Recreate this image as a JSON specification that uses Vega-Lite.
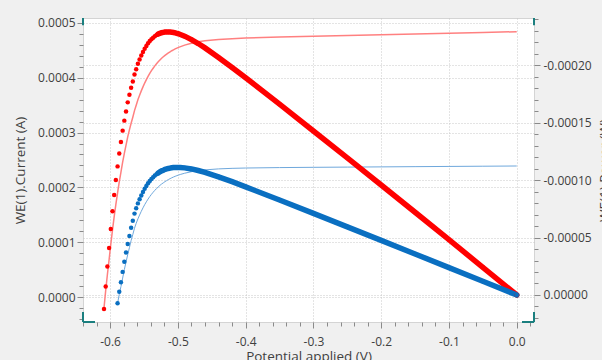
{
  "$schema": "https://vega.github.io/schema/vega-lite/v6.json",
  "width": 451,
  "height": 304,
  "autosize": {"type": "none"},
  "padding": {"left": 83, "top": 18, "right": 68, "bottom": 38},
  "background": "#f0f0f0",
  "config": {
    "view": {"fill": "white", "stroke": "#d4d4d4", "strokeWidth": 1},
    "font": "Open Sans",
    "axis": {
      "labelFont": "Open Sans",
      "labelFontSize": 12,
      "labelColor": "#404040",
      "titleFont": "Open Sans",
      "titleFontSize": 13.5,
      "titleFontWeight": "normal",
      "titleColor": "#404040",
      "tickColor": "#8a8a8a",
      "domain": false,
      "gridColor": "#c8c8c8",
      "gridDash": [1, 2],
      "labelOverlap": false,
      "labelBound": false,
      "labelFlush": false
    }
  },
  "datasets": {
    "corners": [
      {"V": -0.64, "V2": -0.64, "I": -0.0000456, "I2": -0.0000274},
      {"V": -0.64, "V2": -0.6223, "I": -0.0000456, "I2": -0.0000456},
      {"V": 0.0255, "V2": 0.0255, "I": -0.0000456, "I2": -0.0000274},
      {"V": 0.0078, "V2": 0.0255, "I": -0.0000456, "I2": -0.0000456},
      {"V": -0.64, "V2": -0.64, "I": 0.000509, "I2": 0.000496},
      {"V": 0.0255, "V2": 0.0255, "I": 0.000509, "I2": 0.000496}
    ],
    "red": [
      {"V": -0.609, "I": -0.000020, "P": 0.0000122},
      {"V": -0.6065, "I": 0.000012, "P": -0.0000073},
      {"V": -0.604, "I": 0.000041, "P": -0.0000248},
      {"V": -0.6015, "I": 0.000068, "P": -0.0000409},
      {"V": -0.599, "I": 0.000096, "P": -0.0000575},
      {"V": -0.5965, "I": 0.000122, "P": -0.0000728},
      {"V": -0.594, "I": 0.0001465, "P": -0.0000870},
      {"V": -0.5915, "I": 0.000169, "P": -0.0001000},
      {"V": -0.589, "I": 0.000190, "P": -0.0001119},
      {"V": -0.5865, "I": 0.000210, "P": -0.0001232},
      {"V": -0.584, "I": 0.000228, "P": -0.0001332},
      {"V": -0.5815, "I": 0.000246, "P": -0.0001430},
      {"V": -0.579, "I": 0.000262, "P": -0.0001517},
      {"V": -0.5765, "I": 0.000277, "P": -0.0001597},
      {"V": -0.574, "I": 0.000292, "P": -0.0001676},
      {"V": -0.5715, "I": 0.000305, "P": -0.0001743},
      {"V": -0.569, "I": 0.000317, "P": -0.0001804},
      {"V": -0.5665, "I": 0.000328, "P": -0.0001858},
      {"V": -0.564, "I": 0.000340, "P": -0.0001918},
      {"V": -0.5615, "I": 0.000350, "P": -0.0001965},
      {"V": -0.559, "I": 0.000360, "P": -0.0002012},
      {"V": -0.5565, "I": 0.000368, "P": -0.0002048},
      {"V": -0.554, "I": 0.000376, "P": -0.0002083},
      {"V": -0.5515, "I": 0.0003834, "P": -0.0002114},
      {"V": -0.549, "I": 0.0003903, "P": -0.0002143},
      {"V": -0.5465, "I": 0.0003966, "P": -0.0002167},
      {"V": -0.544, "I": 0.0004025, "P": -0.0002190},
      {"V": -0.5415, "I": 0.0004079, "P": -0.0002209},
      {"V": -0.539, "I": 0.0004129, "P": -0.0002226},
      {"V": -0.5365, "I": 0.0004174, "P": -0.0002239},
      {"V": -0.534, "I": 0.0004217, "P": -0.0002252},
      {"V": -0.5315, "I": 0.0004255, "P": -0.0002262},
      {"V": -0.529, "I": 0.0004292, "P": -0.0002270},
      {"V": -0.5265, "I": 0.0004324, "P": -0.0002277},
      {"V": -0.524, "I": 0.0004355, "P": -0.0002282},
      {"V": -0.5215, "I": 0.0004382, "P": -0.0002285},
      {"V": -0.519, "I": 0.0004408, "P": -0.0002288},
      {"V": -0.5165, "I": 0.0004431, "P": -0.0002289},
      {"V": -0.514, "I": 0.0004453, "P": -0.0002289},
      {"V": -0.5115, "I": 0.0004474, "P": -0.0002288},
      {"V": -0.509, "I": 0.0004493, "P": -0.0002287},
      {"V": -0.5065, "I": 0.0004510, "P": -0.0002284},
      {"V": -0.504, "I": 0.0004526, "P": -0.0002281},
      {"V": -0.5015, "I": 0.0004541, "P": -0.0002277},
      {"V": -0.499, "I": 0.0004555, "P": -0.0002273},
      {"V": -0.49, "I": 0.0004595, "P": -0.0002252},
      {"V": -0.48, "I": 0.0004629, "P": -0.0002222},
      {"V": -0.47, "I": 0.0004655, "P": -0.0002188},
      {"V": -0.46, "I": 0.0004673, "P": -0.0002150},
      {"V": -0.44, "I": 0.0004698, "P": -0.0002067},
      {"V": -0.42, "I": 0.0004713, "P": -0.0001979},
      {"V": -0.40, "I": 0.0004724, "P": -0.0001890},
      {"V": -0.35, "I": 0.0004744, "P": -0.0001660},
      {"V": -0.30, "I": 0.0004758, "P": -0.0001427},
      {"V": -0.25, "I": 0.0004771, "P": -0.0001193},
      {"V": -0.20, "I": 0.0004785, "P": -0.0000957},
      {"V": -0.15, "I": 0.0004799, "P": -0.0000720},
      {"V": -0.10, "I": 0.0004813, "P": -0.0000481},
      {"V": -0.05, "I": 0.0004826, "P": -0.0000241},
      {"V": 0.0, "I": 0.0004840, "P": 0.0}
    ],
    "blue": [
      {"V": -0.589, "I": -0.000012, "P": 0.0000071},
      {"V": -0.5865, "I": 0.000005, "P": -0.0000029},
      {"V": -0.584, "I": 0.000019, "P": -0.0000111},
      {"V": -0.5815, "I": 0.0000345, "P": -0.0000201},
      {"V": -0.579, "I": 0.000050, "P": -0.0000290},
      {"V": -0.5765, "I": 0.000064, "P": -0.0000369},
      {"V": -0.574, "I": 0.0000773, "P": -0.0000444},
      {"V": -0.5715, "I": 0.000090, "P": -0.0000514},
      {"V": -0.569, "I": 0.000103, "P": -0.0000586},
      {"V": -0.5665, "I": 0.000114, "P": -0.0000646},
      {"V": -0.564, "I": 0.0001255, "P": -0.0000708},
      {"V": -0.5615, "I": 0.0001345, "P": -0.0000755},
      {"V": -0.559, "I": 0.0001425, "P": -0.0000797},
      {"V": -0.5565, "I": 0.0001496, "P": -0.0000833},
      {"V": -0.554, "I": 0.0001563, "P": -0.0000866},
      {"V": -0.5515, "I": 0.0001626, "P": -0.0000897},
      {"V": -0.549, "I": 0.0001684, "P": -0.0000924},
      {"V": -0.5465, "I": 0.0001737, "P": -0.0000949},
      {"V": -0.544, "I": 0.0001786, "P": -0.0000972},
      {"V": -0.5415, "I": 0.0001832, "P": -0.0000992},
      {"V": -0.539, "I": 0.0001873, "P": -0.0001010},
      {"V": -0.5365, "I": 0.0001911, "P": -0.0001025},
      {"V": -0.534, "I": 0.0001946, "P": -0.0001039},
      {"V": -0.5315, "I": 0.0001978, "P": -0.0001051},
      {"V": -0.529, "I": 0.0002008, "P": -0.0001062},
      {"V": -0.5265, "I": 0.0002036, "P": -0.0001072},
      {"V": -0.524, "I": 0.0002061, "P": -0.0001080},
      {"V": -0.5215, "I": 0.0002083, "P": -0.0001086},
      {"V": -0.519, "I": 0.0002105, "P": -0.0001093},
      {"V": -0.5165, "I": 0.0002124, "P": -0.0001097},
      {"V": -0.514, "I": 0.0002143, "P": -0.0001101},
      {"V": -0.5115, "I": 0.0002159, "P": -0.0001104},
      {"V": -0.509, "I": 0.0002175, "P": -0.0001107},
      {"V": -0.5065, "I": 0.0002189, "P": -0.0001109},
      {"V": -0.504, "I": 0.0002202, "P": -0.0001110},
      {"V": -0.5015, "I": 0.0002214, "P": -0.0001110},
      {"V": -0.499, "I": 0.0002225, "P": -0.0001110},
      {"V": -0.4965, "I": 0.0002235, "P": -0.0001110},
      {"V": -0.49, "I": 0.0002258, "P": -0.0001106},
      {"V": -0.48, "I": 0.0002286, "P": -0.0001097},
      {"V": -0.47, "I": 0.0002304, "P": -0.0001083},
      {"V": -0.46, "I": 0.0002319, "P": -0.0001067},
      {"V": -0.44, "I": 0.0002337, "P": -0.0001028},
      {"V": -0.42, "I": 0.0002347, "P": -0.0000986},
      {"V": -0.40, "I": 0.0002353, "P": -0.0000941},
      {"V": -0.35, "I": 0.0002361, "P": -0.0000826},
      {"V": -0.30, "I": 0.0002366, "P": -0.0000710},
      {"V": -0.25, "I": 0.0002370, "P": -0.0000593},
      {"V": -0.20, "I": 0.0002374, "P": -0.0000475},
      {"V": -0.15, "I": 0.0002378, "P": -0.0000357},
      {"V": -0.10, "I": 0.0002382, "P": -0.0000238},
      {"V": -0.05, "I": 0.0002386, "P": -0.0000119},
      {"V": 0.0, "I": 0.0002390, "P": 0.0}
    ]
  },
  "encoding": {
    "x": {
      "field": "V",
      "type": "quantitative",
      "scale": {"domain": [-0.64, 0.0255], "nice": false, "zero": false},
      "axis": {
        "title": "Potential applied (V)",
        "values": [-0.64, -0.62, -0.6, -0.58, -0.56, -0.54, -0.52, -0.5, -0.48, -0.46, -0.44, -0.42, -0.4, -0.38, -0.36, -0.34, -0.32, -0.3, -0.28, -0.26, -0.24, -0.22, -0.2, -0.18, -0.16, -0.14, -0.12, -0.1, -0.08, -0.06, -0.04, -0.02, 0, 0.02],
        "labelExpr": "abs(datum.value*10-round(datum.value*10))<0.001 ? (datum.value < -0.000001 ? '-' : '') + format(abs(datum.value), '.1f') : ''",
        "grid": true,
        "gridOpacity": {"condition": {"test": "abs(datum.value*10-round(datum.value*10))<0.001", "value": 1}, "value": 0},
        "tickSize": {"condition": {"test": "abs(datum.value*10-round(datum.value*10))<0.001", "value": 6}, "value": 4},
        "labelPadding": 8,
        "titleX": 225.5,
        "titleY": 27,
        "titleBaseline": "top",
        "titleAnchor": "middle"
      }
    }
  },
  "layer": [
    {
      "encoding": {
        "y": {
          "field": "I",
          "type": "quantitative",
          "scale": {"domain": [-0.0000456, 0.000509], "nice": false, "zero": false},
          "axis": {
            "orient": "left",
            "title": "WE(1).Current (A)",
            "values": [-0.00004, -0.00002, 0, 0.00002, 0.00004, 0.00006, 0.00008, 0.0001, 0.00012, 0.00014, 0.00016, 0.00018, 0.0002, 0.00022, 0.00024, 0.00026, 0.00028, 0.0003, 0.00032, 0.00034, 0.00036, 0.00038, 0.0004, 0.00042, 0.00044, 0.00046, 0.00048, 0.0005],
            "labelExpr": "abs(datum.value*10000-round(datum.value*10000))<0.001 ? format(datum.value, '.4f') : ''",
            "grid": true,
            "gridOpacity": {"condition": {"test": "abs(datum.value*10000-round(datum.value*10000))<0.001", "value": 1}, "value": 0},
            "tickSize": {"condition": {"test": "abs(datum.value*10000-round(datum.value*10000))<0.001", "value": 6}, "value": 4},
            "labelPadding": 2,
            "titleAngle": -90,
            "titleX": -63,
            "titleY": 152,
            "titleBaseline": "middle",
            "titleAlign": "center"
          }
        }
      },
      "layer": [
        {"data": {"name": "red"}, "mark": {"type": "line", "color": "#ff8080", "strokeWidth": 1.5}},
        {"data": {"name": "blue"}, "mark": {"type": "line", "color": "#6fa8dc", "strokeWidth": 1}},
        {"data": {"name": "corners"}, "mark": {"type": "rule", "color": "#1b7f7f", "strokeWidth": 2}, "encoding": {"x2": {"field": "V2"}, "y2": {"field": "I2"}}}
      ]
    },
    {
      "encoding": {
        "y": {
          "field": "P",
          "type": "quantitative",
          "scale": {"domain": [-0.000241, 0.0000235], "reverse": true, "nice": false, "zero": false},
          "axis": {
            "orient": "right",
            "title": "WE(1).Power (W)",
            "values": [-0.00024, -0.00023, -0.00022, -0.00021, -0.0002, -0.00019, -0.00018, -0.00017, -0.00016, -0.00015, -0.00014, -0.00013, -0.00012, -0.00011, -0.0001, -0.00009, -0.00008, -0.00007, -0.00006, -0.00005, -0.00004, -0.00003, -0.00002, -0.00001, 0, 0.00001, 0.00002],
            "labelExpr": "abs(datum.value*20000-round(datum.value*20000))<0.001 ? (datum.value < -0.0000001 ? '-' : '') + format(abs(datum.value), '.5f') : ''",
            "grid": true,
            "gridOpacity": {"condition": {"test": "abs(datum.value*20000-round(datum.value*20000))<0.001", "value": 1}, "value": 0},
            "tickSize": {"condition": {"test": "abs(datum.value*20000-round(datum.value*20000))<0.001", "value": 6}, "value": 4},
            "labelPadding": 3,
            "titleAngle": -90,
            "titleX": 70,
            "titleY": 152,
            "titleBaseline": "middle",
            "titleAlign": "center"
          }
        }
      },
      "layer": [
        {"data": {"name": "red"}, "transform": [{"filter": "datum.V >= -0.53"}], "mark": {"type": "line", "color": "#ff0000", "strokeWidth": 5.5, "strokeCap": "round"}},
        {"data": {"name": "blue"}, "transform": [{"filter": "datum.V >= -0.53"}], "mark": {"type": "line", "color": "#0a6fc1", "strokeWidth": 5.5, "strokeCap": "round"}},
        {"data": {"name": "red"}, "mark": {"type": "circle", "color": "#ff0000", "size": 20, "opacity": 1}},
        {"data": {"name": "blue"}, "mark": {"type": "circle", "color": "#0a6fc1", "size": 20, "opacity": 1}}
      ]
    }
  ],
  "resolve": {"scale": {"y": "independent"}}
}
